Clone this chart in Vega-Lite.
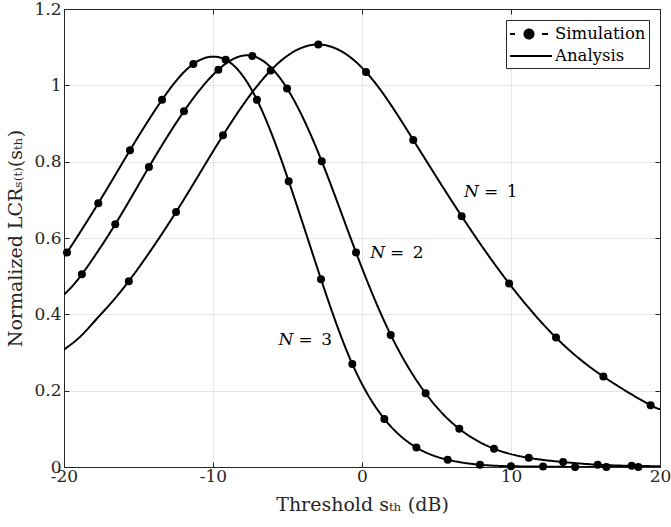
{
  "$schema": "https://vega.github.io/schema/vega-lite/v6.json",
  "width": 596,
  "height": 458,
  "autosize": "none",
  "padding": {"left": 64, "top": 9, "right": 11, "bottom": 60},
  "background": "white",
  "config": {
    "view": {"stroke": null},
    "font": "DejaVu Serif",
    "axis": {
      "labelFont": "DejaVu Serif",
      "labelFontSize": 17,
      "labelColor": "#262626",
      "labelFlush": false,
      "labelOverlap": false,
      "titleFont": "DejaVu Serif",
      "titleFontSize": 19,
      "titleFontWeight": "normal",
      "titleColor": "#262626",
      "domainColor": "#262626",
      "tickColor": "#262626",
      "gridColor": "#e6e6e6",
      "tickSize": -5
    },
    "legend": {
      "orient": "top-right",
      "offset": 11,
      "padding": 3,
      "strokeColor": "#262626",
      "fillColor": "white",
      "cornerRadius": 0,
      "labelFont": "DejaVu Serif",
      "labelFontSize": 16.5,
      "labelColor": "black",
      "symbolSize": 400,
      "symbolStrokeWidth": 2,
      "symbolStrokeColor": "black",
      "symbolFillColor": "black",
      "labelOffset": 24
    }
  },
  "datasets": {
    "analysis": [
      {"N": 1, "s": -20, "lcr": 0.308, "type": "Analysis"},
      {"N": 1, "s": -18.9, "lcr": 0.342, "type": "Analysis"},
      {"N": 1, "s": -17.6, "lcr": 0.397, "type": "Analysis"},
      {"N": 1, "s": -15.65, "lcr": 0.487, "type": "Analysis"},
      {"N": 1, "s": -12.48, "lcr": 0.668, "type": "Analysis"},
      {"N": 1, "s": -9.33, "lcr": 0.869, "type": "Analysis"},
      {"N": 1, "s": -6.13, "lcr": 1.039, "type": "Analysis"},
      {"N": 1, "s": -2.93, "lcr": 1.107, "type": "Analysis"},
      {"N": 1, "s": 0.27, "lcr": 1.035, "type": "Analysis"},
      {"N": 1, "s": 3.44, "lcr": 0.857, "type": "Analysis"},
      {"N": 1, "s": 6.69, "lcr": 0.657, "type": "Analysis"},
      {"N": 1, "s": 9.87, "lcr": 0.481, "type": "Analysis"},
      {"N": 1, "s": 13.02, "lcr": 0.339, "type": "Analysis"},
      {"N": 1, "s": 16.2, "lcr": 0.237, "type": "Analysis"},
      {"N": 1, "s": 19.37, "lcr": 0.162, "type": "Analysis"},
      {"N": 1, "s": 20, "lcr": 0.155, "type": "Analysis"},
      {"N": 2, "s": -20, "lcr": 0.452, "type": "Analysis"},
      {"N": 2, "s": -18.8, "lcr": 0.505, "type": "Analysis"},
      {"N": 2, "s": -16.56, "lcr": 0.636, "type": "Analysis"},
      {"N": 2, "s": -14.3, "lcr": 0.786, "type": "Analysis"},
      {"N": 2, "s": -11.95, "lcr": 0.932, "type": "Analysis"},
      {"N": 2, "s": -9.64, "lcr": 1.041, "type": "Analysis"},
      {"N": 2, "s": -7.36, "lcr": 1.077, "type": "Analysis"},
      {"N": 2, "s": -5.03, "lcr": 0.992, "type": "Analysis"},
      {"N": 2, "s": -2.7, "lcr": 0.801, "type": "Analysis"},
      {"N": 2, "s": -0.4, "lcr": 0.562, "type": "Analysis"},
      {"N": 2, "s": 1.93, "lcr": 0.346, "type": "Analysis"},
      {"N": 2, "s": 4.27, "lcr": 0.193, "type": "Analysis"},
      {"N": 2, "s": 6.53, "lcr": 0.1, "type": "Analysis"},
      {"N": 2, "s": 8.86, "lcr": 0.048, "type": "Analysis"},
      {"N": 2, "s": 11.19, "lcr": 0.024, "type": "Analysis"},
      {"N": 2, "s": 13.5, "lcr": 0.013, "type": "Analysis"},
      {"N": 2, "s": 15.82, "lcr": 0.006, "type": "Analysis"},
      {"N": 2, "s": 18.1, "lcr": 0.003, "type": "Analysis"},
      {"N": 2, "s": 20, "lcr": 0.002, "type": "Analysis"},
      {"N": 3, "s": -20, "lcr": 0.555, "type": "Analysis"},
      {"N": 3, "s": -19.8, "lcr": 0.562, "type": "Analysis"},
      {"N": 3, "s": -17.7, "lcr": 0.691, "type": "Analysis"},
      {"N": 3, "s": -15.57, "lcr": 0.83, "type": "Analysis"},
      {"N": 3, "s": -13.42, "lcr": 0.962, "type": "Analysis"},
      {"N": 3, "s": -11.32, "lcr": 1.056, "type": "Analysis"},
      {"N": 3, "s": -9.15, "lcr": 1.067, "type": "Analysis"},
      {"N": 3, "s": -7.05, "lcr": 0.962, "type": "Analysis"},
      {"N": 3, "s": -4.92, "lcr": 0.749, "type": "Analysis"},
      {"N": 3, "s": -2.75, "lcr": 0.492, "type": "Analysis"},
      {"N": 3, "s": -0.65, "lcr": 0.27, "type": "Analysis"},
      {"N": 3, "s": 1.5, "lcr": 0.126, "type": "Analysis"},
      {"N": 3, "s": 3.65, "lcr": 0.051, "type": "Analysis"},
      {"N": 3, "s": 5.75, "lcr": 0.019, "type": "Analysis"},
      {"N": 3, "s": 7.92, "lcr": 0.006, "type": "Analysis"},
      {"N": 3, "s": 10, "lcr": 0.002, "type": "Analysis"},
      {"N": 3, "s": 12.15, "lcr": 0.001, "type": "Analysis"},
      {"N": 3, "s": 14.3, "lcr": 0, "type": "Analysis"},
      {"N": 3, "s": 16.4, "lcr": 0, "type": "Analysis"},
      {"N": 3, "s": 18.55, "lcr": 0, "type": "Analysis"},
      {"N": 3, "s": 20, "lcr": 0, "type": "Analysis"}
    ],
    "sim": [
      {"N": 1, "s": -15.65, "lcr": 0.487},
      {"N": 1, "s": -12.48, "lcr": 0.668},
      {"N": 1, "s": -9.33, "lcr": 0.869},
      {"N": 1, "s": -6.13, "lcr": 1.039},
      {"N": 1, "s": -2.93, "lcr": 1.107},
      {"N": 1, "s": 0.27, "lcr": 1.035},
      {"N": 1, "s": 3.44, "lcr": 0.857},
      {"N": 1, "s": 6.69, "lcr": 0.657},
      {"N": 1, "s": 9.87, "lcr": 0.481},
      {"N": 1, "s": 13.02, "lcr": 0.339},
      {"N": 1, "s": 16.2, "lcr": 0.237},
      {"N": 1, "s": 19.37, "lcr": 0.162},
      {"N": 2, "s": -18.8, "lcr": 0.505},
      {"N": 2, "s": -16.56, "lcr": 0.636},
      {"N": 2, "s": -14.3, "lcr": 0.786},
      {"N": 2, "s": -11.95, "lcr": 0.932},
      {"N": 2, "s": -9.64, "lcr": 1.041},
      {"N": 2, "s": -7.36, "lcr": 1.077},
      {"N": 2, "s": -5.03, "lcr": 0.992},
      {"N": 2, "s": -2.7, "lcr": 0.801},
      {"N": 2, "s": -0.4, "lcr": 0.562},
      {"N": 2, "s": 1.93, "lcr": 0.346},
      {"N": 2, "s": 4.27, "lcr": 0.193},
      {"N": 2, "s": 6.53, "lcr": 0.1},
      {"N": 2, "s": 8.86, "lcr": 0.048},
      {"N": 2, "s": 11.19, "lcr": 0.024},
      {"N": 2, "s": 13.5, "lcr": 0.013},
      {"N": 2, "s": 15.82, "lcr": 0.006},
      {"N": 2, "s": 18.1, "lcr": 0.003},
      {"N": 3, "s": -19.8, "lcr": 0.562},
      {"N": 3, "s": -17.7, "lcr": 0.691},
      {"N": 3, "s": -15.57, "lcr": 0.83},
      {"N": 3, "s": -13.42, "lcr": 0.962},
      {"N": 3, "s": -11.32, "lcr": 1.056},
      {"N": 3, "s": -9.15, "lcr": 1.067},
      {"N": 3, "s": -7.05, "lcr": 0.962},
      {"N": 3, "s": -4.92, "lcr": 0.749},
      {"N": 3, "s": -2.75, "lcr": 0.492},
      {"N": 3, "s": -0.65, "lcr": 0.27},
      {"N": 3, "s": 1.5, "lcr": 0.126},
      {"N": 3, "s": 3.65, "lcr": 0.051},
      {"N": 3, "s": 5.75, "lcr": 0.019},
      {"N": 3, "s": 7.92, "lcr": 0.006},
      {"N": 3, "s": 10, "lcr": 0.002},
      {"N": 3, "s": 12.15, "lcr": 0.001},
      {"N": 3, "s": 14.3, "lcr": 0},
      {"N": 3, "s": 16.4, "lcr": 0},
      {"N": 3, "s": 18.55, "lcr": 0}
    ],
    "labels": [
      {"s": 7.85, "lcr": 0.72, "eq": "=\u20021"},
      {"s": 1.55, "lcr": 0.562, "eq": "=\u20022"},
      {"s": -4.6, "lcr": 0.333, "eq": "=\u20023"}
    ]
  },
  "layer": [
    {
      "data": {"name": "analysis"},
      "mark": {"type": "line", "color": "black", "strokeWidth": 2, "interpolate": "natural", "clip": true},
      "encoding": {
        "x": {
          "field": "s", "type": "quantitative",
          "scale": {"domain": [-20, 20], "nice": false},
          "axis": {
            "orient": "bottom",
            "title": "Threshold sₜₕ (dB)",
            "values": [-20, -10, 0, 10, 20],
            "labelExpr": "'' + datum.value",
            "labelFont": "DejaVu Serif",
            "labelPadding": 6,
            "titlePadding": 11
          }
        },
        "y": {
          "field": "lcr", "type": "quantitative",
          "scale": {"domain": [0, 1.2], "nice": false},
          "axis": {
            "orient": "left",
            "title": "Normalized LCRₛ₍ₜ₎(sₜₕ)",
            "values": [0, 0.2, 0.4, 0.6, 0.8, 1, 1.2],
            "format": "~g",
            "labelFont": "DejaVu Serif",
            "labelPadding": 8,
            "titlePadding": 8
          }
        },
        "detail": {"field": "N"},
        "strokeDash": {
          "field": "type", "type": "nominal",
          "scale": {"domain": ["Simulation", "Analysis"], "range": [[1, 0], [1, 0]]},
          "legend": {
            "title": null,
            "symbolType": {"expr": "datum.value === 'Simulation' ? 'M-1,0H-0.5M2.2,0H2.8M1.35,0A0.45,0.45,0,1,1,0.45,0A0.45,0.45,0,1,1,1.35,0' : 'M-1,0H3.2'"},
            "symbolFillColor": "black",
            "symbolStrokeColor": "black",
            "symbolStrokeWidth": 2
          }
        }
      }
    },
    {
      "data": {"name": "sim"},
      "mark": {"type": "point", "filled": true, "color": "black", "size": 64, "opacity": 1},
      "encoding": {
        "x": {
          "field": "s", "type": "quantitative",
          "axis": {"orient": "top", "title": null, "labels": false, "grid": false, "values": [-20, -10, 0, 10, 20]}
        },
        "y": {
          "field": "lcr", "type": "quantitative",
          "axis": {"orient": "right", "title": null, "labels": false, "grid": false, "values": [0, 0.2, 0.4, 0.6, 0.8, 1, 1.2]}
        }
      }
    },
    {
      "data": {"name": "labels"},
      "mark": {"type": "text", "align": "right", "baseline": "middle", "fontStyle": "italic", "fontSize": 17, "font": "DejaVu Serif", "color": "black"},
      "encoding": {
        "x": {"field": "s", "type": "quantitative", "axis": null},
        "y": {"field": "lcr", "type": "quantitative", "axis": null},
        "text": {"value": "N"}
      }
    },
    {
      "data": {"name": "labels"},
      "mark": {"type": "text", "align": "left", "baseline": "middle", "dx": 5, "fontSize": 17, "font": "DejaVu Serif", "color": "black"},
      "encoding": {
        "x": {"field": "s", "type": "quantitative", "axis": null},
        "y": {"field": "lcr", "type": "quantitative", "axis": null},
        "text": {"field": "eq"}
      }
    }
  ],
  "resolve": {"axis": {"x": "independent", "y": "independent"}}
}
